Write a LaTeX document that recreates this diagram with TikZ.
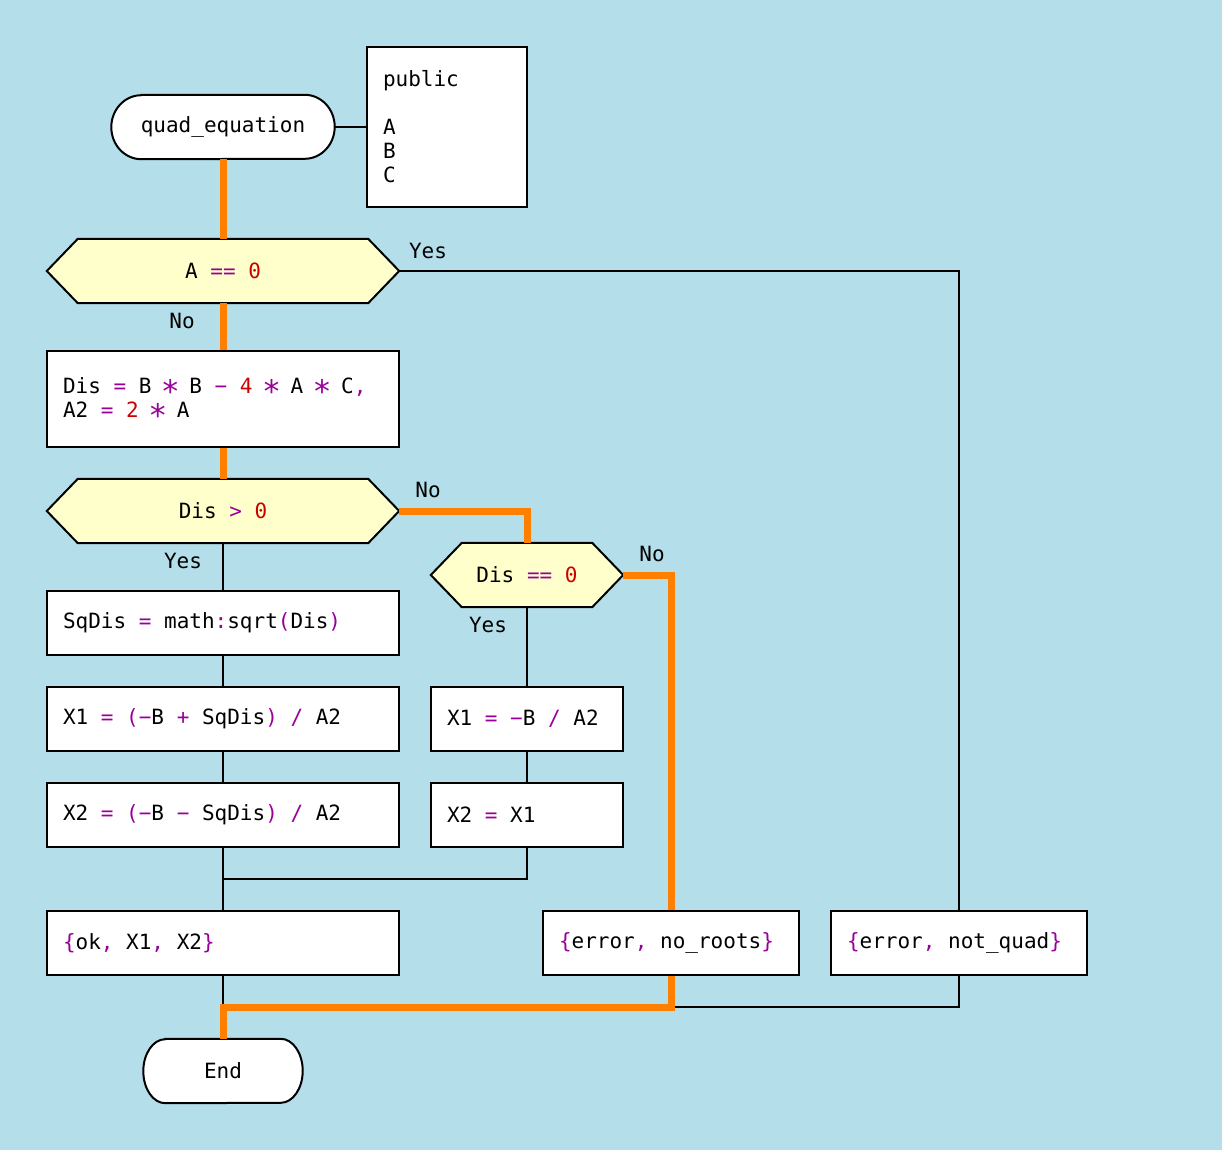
\documentclass[tikz,border=0pt]{standalone}
\usepackage{fontspec}
\setmainfont{DejaVu Sans Mono}
\pgfdeclarelayer{background}
\pgfsetlayers{background,main}
\definecolor{bgc}{HTML}{B4DEEA}
\definecolor{hexc}{HTML}{FFFFCC}
\definecolor{orc}{HTML}{FF8000}
\definecolor{opc}{HTML}{990099}
\definecolor{nmc}{HTML}{CC0000}
\newcommand\op[1]{\textcolor{opc}{#1}}
\newcommand\nm[1]{\textcolor{nmc}{#1}}
\newcommand\mulop{\makebox[12.64pt]{\raisebox{-3pt}{\scalebox{1.5}{∗}}}}
\newcommand\gapsp{\hspace*{12.64pt}}
\newcommand\cfont{\fontsize{21}{24}\selectfont}
\newcommand\hexa[1]{\path[hexs] (#1.west) -- ([xshift=31pt]#1.north west) -- ([xshift=-31pt]#1.north east) -- (#1.east) -- ([xshift=-31pt]#1.south east) -- ([xshift=31pt]#1.south west) -- cycle;}
\newcommand\term[2]{\path[terms] ([xshift=#2pt]#1.north west) -- ([xshift=-#2pt]#1.north east) arc[start angle=90,end angle=-90,x radius=#2,y radius=32] -- ([xshift=#2pt]#1.south west) arc[start angle=270,end angle=90,x radius=#2,y radius=32] -- cycle;}
\begin{document}
\begin{tikzpicture}[x=1pt,y=1pt,
 every node/.style={font=\cfont, inner sep=0pt},
 boxn/.style={rectangle, draw=black, line width=2pt, fill=white, inner xsep=16pt, inner ysep=0pt, align=left, text width=#1, minimum height=64pt},
 ghost/.style={rectangle, minimum width=#1, minimum height=64pt},
 hexs/.style={fill=hexc, draw=black, line width=2pt},
 terms/.style={fill=white, draw=black, line width=2pt},
 flow/.style={draw=black, line width=1.6pt},
 hot/.style={draw=orc, line width=7pt},
 lbl/.style={font=\cfont}
]
\useasboundingbox (0,0) rectangle (1222,-1150);
% nodes
\node[ghost=223pt] (start) at (223,-127) {quad\_equation};
\node[boxn=128pt, minimum height=160pt] (pub) at (447,-127) {public\\[24pt]A\\B\\C};
\node[ghost=352pt] (c1) at (223,-271) {A\gapsp\op{==}\gapsp\nm{0}};
\node[boxn=320pt, minimum height=96pt] (calc) at (223,-399) {Dis\gapsp\op{=}\gapsp B\gapsp\op{\mulop}\gapsp B\gapsp\op{−}\gapsp\nm{4}\gapsp\op{\mulop}\gapsp A\gapsp\op{\mulop}\gapsp C\op{,}\\A2\gapsp\op{=}\gapsp\nm{2}\gapsp\op{\mulop}\gapsp A};
\node[ghost=352pt] (c2) at (223,-511) {Dis\gapsp\op{>}\gapsp\nm{0}};
\node[boxn=320pt] (sq) at (223,-623) {SqDis\gapsp\op{=}\gapsp math\op{:}sqrt\op{(}Dis\op{)}};
\node[boxn=320pt] (x1a) at (223,-719) {X1\gapsp\op{=}\gapsp\op{(−}B\gapsp\op{+}\gapsp SqDis\op{)}\gapsp\op{/}\gapsp A2};
\node[boxn=320pt] (x2a) at (223,-815) {X2\gapsp\op{=}\gapsp\op{(−}B\gapsp\op{−}\gapsp SqDis\op{)}\gapsp\op{/}\gapsp A2};
\node[ghost=192pt] (c3) at (527,-575) {Dis\gapsp\op{==}\gapsp\nm{0}};
\node[boxn=160pt] (x1b) at (527,-719) {X1\gapsp\op{=}\gapsp\op{−}B\gapsp\op{/}\gapsp A2};
\node[boxn=160pt] (x2b) at (527,-815) {X2\gapsp\op{=}\gapsp X1};
\node[boxn=320pt] (ok) at (223,-943) {\op{\{}ok\op{,}\gapsp X1\op{,}\gapsp X2\op{\}}};
\node[boxn=224pt] (nor) at (671,-943) {\op{\{}error\op{,}\gapsp no\_roots\op{\}}};
\node[boxn=224pt] (nq) at (959,-943) {\op{\{}error\op{,}\gapsp not\_quad\op{\}}};
\node[ghost=159pt] (endn) at (223,-1071) {End};
\coordinate (j1) at (223,-879);
\coordinate (j2) at (671,-1007);
\coordinate (j3) at (223,-1007);
% shapes behind
\begin{pgfonlayer}{background}
\fill[bgc] (0,0) rectangle (1222,-1150);
\term{start}{30}
\term{endn}{22}
\hexa{c1}
\hexa{c2}
\hexa{c3}
\end{pgfonlayer}
% labels
\node[lbl] (l1) at (428,-251) {Yes};
\node[lbl] (l2) at (182,-321) {No};
\node[lbl] (l3) at (428,-490) {No};
\node[lbl] (l4) at (183,-561) {Yes};
\node[lbl] (l5) at (652,-554) {No};
\node[lbl] (l6) at (488,-625) {Yes};
% black connectors
\draw[flow] (start.east) -- (pub.west);
\draw[flow] (c1.east) -| (nq.north);
\draw[flow] (c2.south) -- (sq.north);
\draw[flow] (sq.south) -- (x1a.north);
\draw[flow] (x1a.south) -- (x2a.north);
\draw[flow] (x2a.south) -- (ok.north);
\draw[flow] (c3.south) -- (x1b.north);
\draw[flow] (x1b.south) -- (x2b.north);
\draw[flow] (x2b.south) |- (j1);
\draw[flow] (ok.south) -- (j3);
\draw[flow] (nq.south) |- (j2);
% orange path
\draw[hot] (start.south) -- (c1.north);
\draw[hot] (c1.south) -- (calc.north);
\draw[hot] (calc.south) -- (c2.north);
\draw[hot] (c2.east) -| (c3.north);
\draw[hot] (c3.east) -| (nor.north);
\draw[hot] (nor.south) -- (j2) -- (j3) -- (endn.north);
\end{tikzpicture}
\end{document}
